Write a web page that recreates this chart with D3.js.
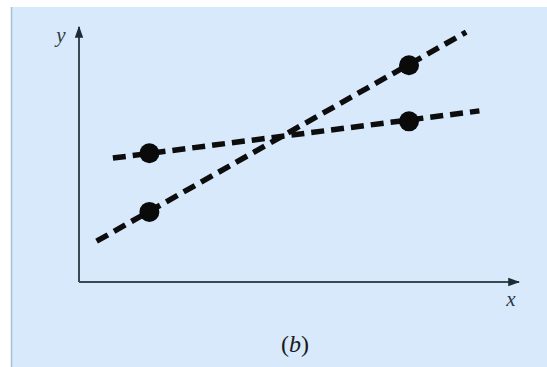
<!DOCTYPE html>
<html>
<head>
<meta charset="utf-8">
<script src="https://cdn.jsdelivr.net/npm/d3@7"></script>
<style>
  html, body { margin: 0; padding: 0; background: #ffffff; }
  svg { display: block; }
  .serif { font-family: "Liberation Serif", "DejaVu Serif", "Times New Roman", serif; }
</style>
</head>
<body>
<svg id="chart" width="547" height="367"></svg>
<script>
// Two sample points on each line
const pointX = [1.6, 7.5];
const steepValues = [2.75, 8.5];
const shallowValues = [5.05, 6.3];
// Ends of the dashed lines drawn through the points
const steepLine = [[0.4, 1.6], [8.8, 9.8]];
const shallowLine = [[0.77, 4.86], [9.1, 6.71]];
// Text labels
const xLabel = "x";
const yLabel = "y";
const caption = "b";

const svg = d3.select("#chart");

// panel background
svg.append("rect")
  .attr("x", 11).attr("y", 7).attr("width", 536).attr("height", 360)
  .attr("fill", "#d7e9fb");
svg.append("line")
  .attr("x1", 11.5).attr("x2", 11.5).attr("y1", 7).attr("y2", 367)
  .attr("stroke", "#a8c0d6").attr("stroke-width", 1.5);

const x = d3.scaleLinear().domain([0, 10]).range([79, 519]);
const y = d3.scaleLinear().domain([0, 10]).range([282, 27]);

// arrow marker
const defs = svg.append("defs");
defs.append("marker")
  .attr("id", "arrow")
  .attr("viewBox", "0 0 10 10")
  .attr("refX", 9).attr("refY", 5)
  .attr("markerWidth", 6).attr("markerHeight", 6)
  .attr("markerUnits", "strokeWidth")
  .attr("orient", "auto")
  .append("path")
  .attr("d", "M0,1.5 L10,5 L0,8.5 Z")
  .attr("fill", "#1e2a33");

const axisColor = "#3b4954";
// x axis
svg.append("line")
  .attr("x1", x(0)).attr("y1", y(0))
  .attr("x2", x(10)).attr("y2", y(0))
  .attr("stroke", axisColor).attr("stroke-width", 2)
  .attr("marker-end", "url(#arrow)");
// y axis
svg.append("line")
  .attr("x1", x(0)).attr("y1", y(0))
  .attr("x2", x(0)).attr("y2", y(10))
  .attr("stroke", axisColor).attr("stroke-width", 2)
  .attr("marker-end", "url(#arrow)");

const line = d3.line().x(d => x(d[0])).y(d => y(d[1]));

[steepLine, shallowLine].forEach(seg => {
  svg.append("path")
    .attr("d", line(seg))
    .attr("fill", "none")
    .attr("stroke", "#0d0d0d")
    .attr("stroke-width", 5.5)
    .attr("stroke-dasharray", "13,7");
});

[steepValues, shallowValues].forEach(vals => {
  svg.selectAll(null)
    .data(vals.map((v, i) => [pointX[i], v]))
    .enter().append("circle")
    .attr("cx", d => x(d[0]))
    .attr("cy", d => y(d[1]))
    .attr("r", 10)
    .attr("fill", "#0a0a0a");
});

// axis labels
svg.append("text")
  .attr("class", "serif")
  .attr("x", 61).attr("y", 42)
  .attr("text-anchor", "middle")
  .attr("font-style", "italic")
  .attr("font-size", 21)
  .attr("fill", "#2e3a42")
  .text(yLabel);

svg.append("text")
  .attr("class", "serif")
  .attr("x", 511).attr("y", 306)
  .attr("text-anchor", "middle")
  .attr("font-style", "italic")
  .attr("font-size", 21)
  .attr("fill", "#2e3a42")
  .text(xLabel);

// caption
const cap = svg.append("text")
  .attr("class", "serif")
  .attr("x", 295).attr("y", 352)
  .attr("text-anchor", "middle")
  .attr("font-size", 24)
  .attr("fill", "#1a1a1a");
cap.append("tspan").text("(");
cap.append("tspan").attr("font-style", "italic").text(caption);
cap.append("tspan").text(")");
</script>
</body>
</html>
